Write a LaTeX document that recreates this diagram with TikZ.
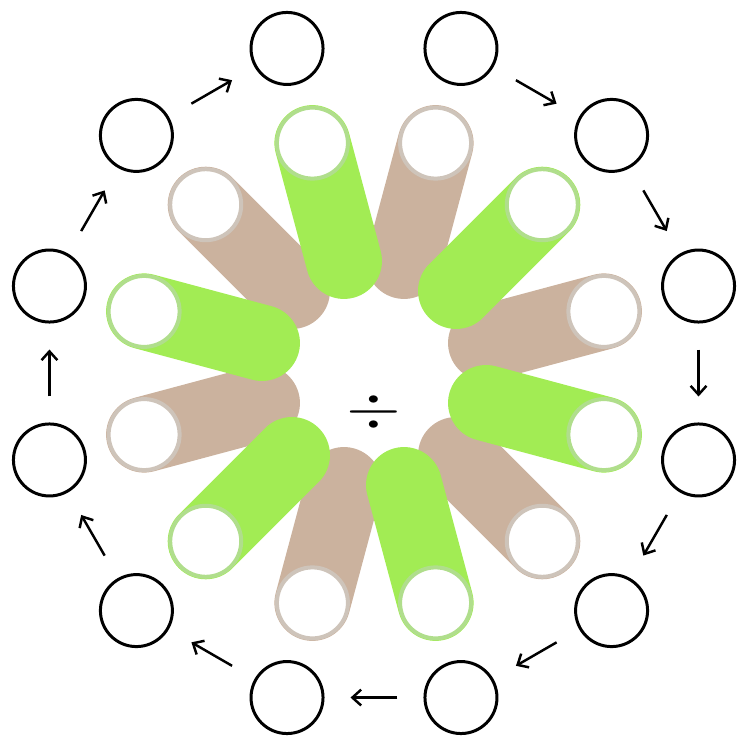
\documentclass[tikz,border=0pt]{standalone}
\usepackage{amsmath,amssymb}
\usepackage{tikz}
\usetikzlibrary{arrows.meta}
\usepackage{xcolor}
\definecolor{petalgreen}{RGB}{162,236,84}
\definecolor{petalbrown}{RGB}{203,178,158}
\definecolor{rimgreen}{RGB}{176,222,140}
\definecolor{rimbrown}{RGB}{206,196,186}

\begin{document}
\begin{tikzpicture}[>={Straight Barb[length=5pt,width=9pt]},
  slot/.style={circle,draw,line width=1.7pt,minimum size=1.44cm,inner sep=0pt},
  petal/.style={line width=1.52cm,line cap=round},
  hole/.style={fill=white,line width=0.08cm}]
  \useasboundingbox (-7.48,-7.38) rectangle (7.28,7.46);
  % petals, brown ones under the green ones
  \foreach \a in {75,15,...,-225}
    \draw[petal,petalbrown](\a:2.32)--(\a:4.76);
  \foreach \a in {105,45,...,-195}
    \draw[petal,petalgreen](\a:2.32)--(\a:4.76);
  \foreach \a in {75,15,...,-225}
    \filldraw[hole,draw=rimbrown](\a:4.76)circle(0.71);
  \foreach \a in {105,45,...,-195}
    \filldraw[hole,draw=rimgreen](\a:4.76)circle(0.71);
  \node[xscale=4,yscale=3.3] (div) at (0,-0.78){$\div$};
  % outer ring of slots, clockwise from the top left
  \foreach \i in {1,...,12}
    \node[slot] (s\i) at ({105-30*(\i-1)}:6.72){};
  \foreach \i [evaluate=\i as \j using {int(mod(\i,12)+1)}] in {2,...,12}
    \draw[->,line width=1.4pt,shorten <=0.52cm,shorten >=0.52cm](s\i)--(s\j);
\end{tikzpicture}
\end{document}
